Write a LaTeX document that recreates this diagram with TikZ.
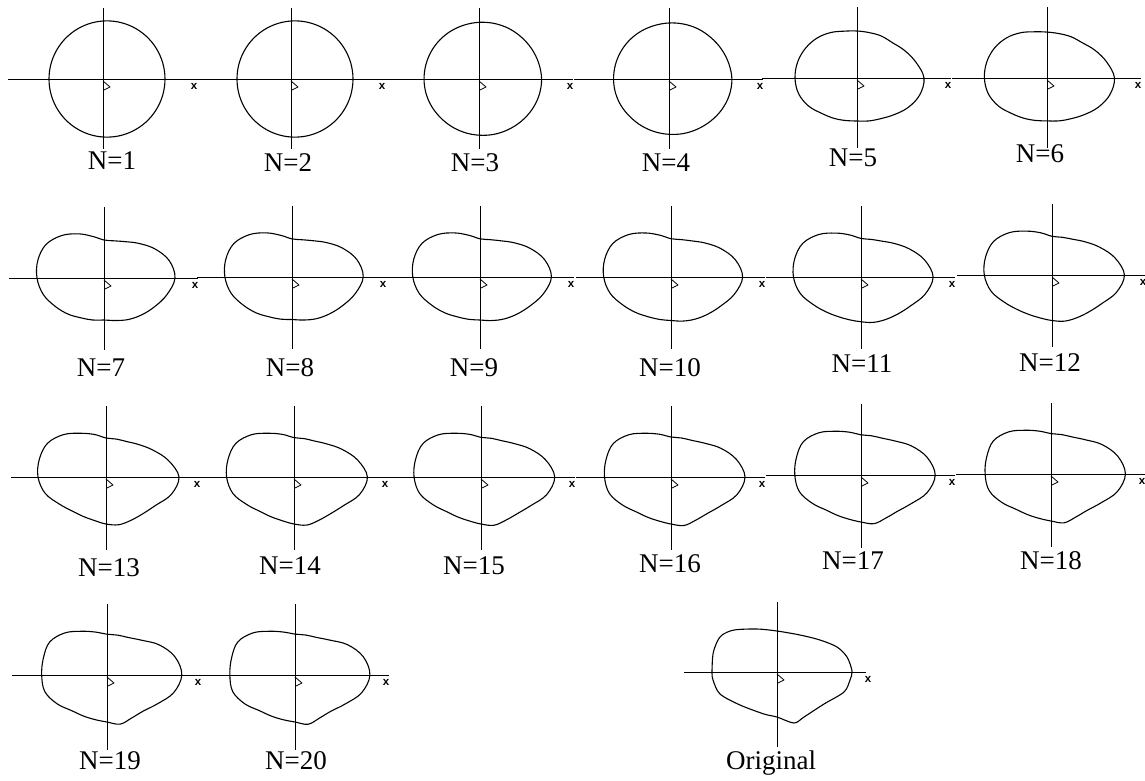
\documentclass[tikz,border=0pt]{standalone}
\usepackage{fontspec}
\setmainfont{Liberation Serif}
\newfontfamily\xfont{Liberation Sans}
\tikzset{
  axisline/.style={line width=0.9pt},
  shapeline/.style={line width=1.1pt, line join=round},
  flag/.style={line width=0.8pt, line join=round},
  xlab/.style={font=\xfont\bfseries\fontsize{11.5}{12}\selectfont, inner sep=0pt},
  lab/.style={font=\fontsize{27}{30}\selectfont, inner sep=0pt, anchor=base},
}
% radii at 0,15,...,345 degrees
\def\KC{{62,61.86,61.46,60.83,60,59.04,58,56.96,56,55.17,54.54,54.14,54,54.14,54.54,55.17,56,56.96,58,59.04,60,60.83,61.46,61.86}}
\def\KE{{67,61,55,50,48.5,47,47,48.5,52.5,56.5,59.5,61.5,62,60.5,56,50,46.5,44,43,44.5,47,52,59,65}}
\def\KS{{71,67.5,58.5,49,42,38.5,38,43,51,60,67,68.5,67,63,56.5,51,46,43.5,42,44,48,52.5,58,65}}
\def\KT{{73,64.5,54,46,41,39.3,39,44,50.5,60,67.5,69,68,63,54,48,45.5,45,47,49.4,50,52,57,67.5}}
\def\KO{{75,71,61,49.5,43.5,41.5,41,44.5,50.5,59.5,66,65.5,65,64.5,58,50.5,47.5,46.3,47,51,49.5,51,58,69}}
\newcommand\blendshape[3]{%
  \gdef\pts{}%
  \foreach \i in {0,...,23}{%
    \pgfmathsetmacro\rr{(1-#3)*#1[\i]+#3*#2[\i]}%
    \pgfmathsetmacro\px{\rr*cos(15*\i)}%
    \pgfmathsetmacro\py{\rr*sin(15*\i)}%
    \xdef\pts{\pts(\px,\py)}%
  }%
  \edef\tmp{\noexpand\draw[shapeline] plot[smooth cycle,tension=0.6] coordinates {\pts};}%
  \tmp
}
% #1 id, #2 cx, #3 ay, #4 label x, #5 label centre y, #6 vertical bottom, #7 #8 shapes, #9 blend
\newcommand\panel[9]{%
  \draw[axisline] (#2-95,#3) -- (#2+94,#3);
  \draw[axisline] (#2,#3-71) -- (#2,#3+#6);
  \draw[flag] (#2,#3+2) -- (#2+7,#3+8) -- (#2+1,#3+11);
  \node[xlab] (x#1) at (#2+91,#3+7) {x};
  \node[lab] (n#1) at (#4,#5+9) {N=#1};
  \begin{scope}[shift={(#2,#3)},yscale=-1]
    \blendshape{#7}{#8}{#9}
  \end{scope}
}
\begin{document}
\begin{tikzpicture}[x=1pt,y=-1pt]
\useasboundingbox (0,0) rectangle (1145,780);
% row 1
\panel{1}{103}{79}{112}{160}{70}{\KC}{\KC}{0}
\panel{2}{291}{79}{288}{162}{70}{\KC}{\KC}{0}
\panel{3}{479}{79}{475}{162}{70}{\KC}{\KE}{0.12}
\panel{4}{669}{79}{666}{162}{70}{\KC}{\KE}{0.18}
\panel{5}{857}{78}{853}{157}{70}{\KE}{\KE}{0}
\panel{6}{1047}{78}{1040}{153}{70}{\KE}{\KS}{0.12}
% row 2
\panel{7}{104}{278}{101}{367}{72}{\KS}{\KS}{0}
\panel{8}{292}{277}{290}{367}{72}{\KS}{\KT}{0.1}
\panel{9}{480}{277}{474}{367}{72}{\KS}{\KT}{0.2}
\panel{10}{671}{277}{670}{367}{72}{\KS}{\KT}{0.3}
\panel{11}{861}{277}{862}{363}{72}{\KS}{\KT}{0.55}
\panel{12}{1052}{275}{1050}{362}{72}{\KS}{\KT}{0.7}
% row 3
\panel{13}{106}{477}{109}{567}{73}{\KT}{\KT}{0}
\panel{14}{294}{477}{290}{565}{73}{\KT}{\KO}{0.2}
\panel{15}{481}{477}{474}{565}{73}{\KT}{\KO}{0.35}
\panel{16}{671}{477}{670}{563}{73}{\KT}{\KO}{0.5}
\panel{17}{861}{475}{853}{560}{73}{\KT}{\KO}{0.6}
\panel{18}{1051}{474}{1051}{560}{73}{\KT}{\KO}{0.7}
% row 4
\panel{19}{107}{675}{110}{760}{75}{\KT}{\KO}{0.9}
\panel{20}{295}{675}{296}{760}{75}{\KT}{\KO}{0.95}
% original
\coordinate (oo) at (777,672);
\draw[axisline] (684,672) -- (866,672);
\draw[axisline] (777,602) -- (777,747);
\draw[flag] (777,674) -- (784,680) -- (778,683);
\node[xlab] (xo) at (868,679) {x};
\node[lab] (no) at (771,769) {Original};
\begin{scope}[shift={(oo)},yscale=-1]
\draw[shapeline] plot[smooth cycle,tension=0.5] coordinates {
 (75,1) (70,15) (60,25) (43,32) (23,37) (0,41) (-20,43) (-43,42) (-55,37) (-60,30)
 (-64,18) (-65,0) (-64,-8) (-57,-22) (-37,-33) (-13,-42) (0,-45) (17,-51)
 (27,-45) (47,-32) (67,-20) (73,-8)};
\end{scope}
\end{tikzpicture}
\end{document}
